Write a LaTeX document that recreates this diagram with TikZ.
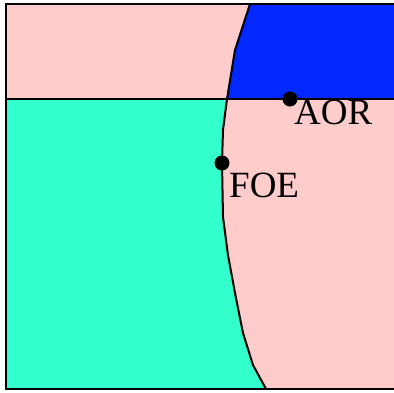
\documentclass[tikz,border=0pt]{standalone}
\usepackage{fontspec}
\setmainfont{Liberation Serif}
\usetikzlibrary{calc}
\definecolor{regpink}{RGB}{255,204,204}
\definecolor{regblue}{RGB}{0,40,255}
\definecolor{regcyan}{RGB}{51,255,204}

\begin{document}
\begin{tikzpicture}[x=1pt,y=-1pt,
  border/.style={line width=2.8pt},
  edge/.style={line width=2pt,line join=round},
  spot/.style={circle,fill=black,inner sep=0pt,minimum size=15pt},
  lbl/.style={anchor=base west,inner sep=0pt,font=\fontsize{37}{40}\selectfont}]
\useasboundingbox (0,0) rectangle (394,392);
\coordinate[] (TL) at (6,4);
\coordinate[] (TR) at (394,4);
\coordinate[] (BL) at (6,389);
\coordinate[] (BR) at (394,389);
\coordinate[] (ML) at (6,99);
\coordinate[] (MR) at (394,99);
\coordinate[] (C0) at (250,4);
\coordinate[] (C1) at (235,50);
\coordinate[] (C2) at (227,99);
\coordinate[] (C3) at (223,130);
\coordinate[] (C4) at (222,163);
\coordinate[] (C5) at (223,217);
\coordinate[] (C6) at (228,255);
\coordinate[] (C7) at (235,293);
\coordinate[] (C8) at (243,333);
\coordinate[] (C9) at (253,365);
\coordinate[] (C10) at (266,389);

% regions
\fill[regpink] (TL) rectangle (BR);
\fill[regblue] (C0) -- (TR) -- (MR) -- (C2) -- (C1) -- cycle;
\fill[regcyan] (ML) -- (C2) -- (C3) -- (C4) -- (C5) -- (C6) -- (C7) -- (C8) -- (C9) -- (C10) -- (BL) -- cycle;

% boundaries
\draw [edge] (C0) -- (C1) -- (C2) -- (C3) -- (C4) -- (C5) -- (C6) -- (C7) -- (C8) -- (C9) -- (C10);
\draw [border] (ML) -- (MR);
\draw [border] (TR) -- (TL) -- (BL) -- (BR);

% points
\node[spot] (aor) at (290,99) {};
\node[spot] (foe) at (222,163) {};
\node[lbl] (aorlbl) at (294,124) {AOR};
\node[lbl] (foelbl) at (229,197) {FOE};
\end{tikzpicture}
\end{document}
